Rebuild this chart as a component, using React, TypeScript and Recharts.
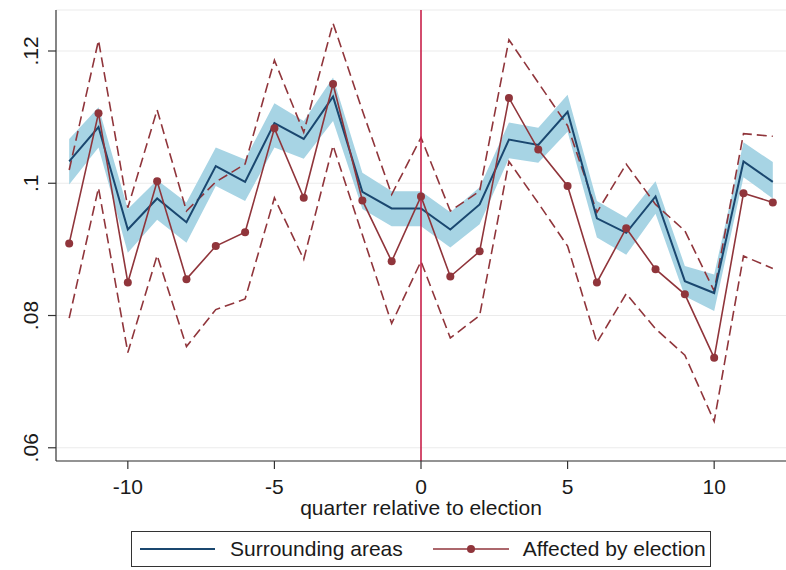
import React from "react";
import { ComposedChart, Area, Line, XAxis, YAxis, CartesianGrid, ReferenceLine, Legend } from "recharts";

const quarters = [-12, -11, -10, -9, -8, -7, -6, -5, -4, -3, -2, -1, 0, 1, 2, 3, 4, 5, 6, 7, 8, 9, 10, 11, 12];

const surrounding = [0.1033, 0.1085, 0.093, 0.0977, 0.0941, 0.1026, 0.1002, 0.1091, 0.1067, 0.1131, 0.0987, 0.0962, 0.0962, 0.093, 0.0968, 0.1066, 0.1058, 0.1108, 0.0947, 0.0925, 0.098, 0.0852, 0.0834, 0.1033, 0.1002];
const surroundingLo = [0.0998, 0.1054, 0.0895, 0.0945, 0.091, 0.0996, 0.0973, 0.1054, 0.1037, 0.1094, 0.0961, 0.0935, 0.0935, 0.0903, 0.0938, 0.1038, 0.1031, 0.1078, 0.0918, 0.0892, 0.0954, 0.0829, 0.0807, 0.1009, 0.0977];
const surroundingHi = [0.1067, 0.1115, 0.0961, 0.1005, 0.0971, 0.1054, 0.1036, 0.1121, 0.1094, 0.116, 0.1016, 0.0988, 0.0988, 0.0956, 0.0994, 0.1092, 0.1084, 0.1134, 0.0973, 0.0948, 0.1003, 0.0875, 0.0862, 0.1062, 0.1032];

const affected = [0.0909, 0.1106, 0.085, 0.1003, 0.0855, 0.0905, 0.0926, 0.1083, 0.0978, 0.115, 0.0974, 0.0882, 0.098, 0.0859, 0.0897, 0.1129, 0.1051, 0.0996, 0.085, 0.0932, 0.087, 0.0832, 0.0736, 0.0985, 0.0971];
const affectedHi = [0.102, 0.1216, 0.0963, 0.1111, 0.0958, 0.1002, 0.1029, 0.1186, 0.1077, 0.1242, 0.111, 0.0983, 0.1069, 0.0958, 0.0988, 0.1217, 0.1152, 0.1087, 0.0956, 0.1029, 0.0968, 0.0928, 0.0837, 0.1075, 0.1071];
const affectedLo = [0.0796, 0.0993, 0.0744, 0.0891, 0.0753, 0.0809, 0.0825, 0.0978, 0.0885, 0.1057, 0.0922, 0.0788, 0.0882, 0.0766, 0.08, 0.1033, 0.097, 0.0905, 0.0759, 0.0833, 0.078, 0.074, 0.064, 0.089, 0.0871];

const xTicks = [-10, -5, 0, 5, 10];
const yTicks = [0.06, 0.08, 0.1, 0.12];
const yLabels = [".06", ".08", ".1", ".12"];

const data = quarters.map((q, i) => ({
  q,
  surrounding: surrounding[i],
  band: [surroundingLo[i], surroundingHi[i]],
  affected: affected[i],
  affectedHi: affectedHi[i],
  affectedLo: affectedLo[i],
}));

const FONT = "'Liberation Sans', Arial, sans-serif";
const TEXT = "#1a1a1a";
const NAVY = "#1a476f";
const MAROON = "#90353b";
const BAND = "#a7d4e4";

const YTick = (props: any) => {
  const { y, payload } = props;
  const i = yTicks.indexOf(payload.value);
  const label = i >= 0 ? yLabels[i] : String(payload.value);
  return (
    <text x={38} y={y} transform={`rotate(-90, 38, ${y})`} textAnchor="middle" fontSize={21} fill={TEXT} fontFamily={FONT}>
      {label}
    </text>
  );
};

const XTick = (props: any) => {
  const { x, payload } = props;
  return (
    <text x={x} y={494} textAnchor="middle" fontSize={21} fill={TEXT} fontFamily={FONT}>
      {payload.value}
    </text>
  );
};

const LegendBox = () => (
  <div
    style={{
      width: 580,
      height: 36,
      border: "1px solid #333",
      display: "flex",
      alignItems: "center",
      fontFamily: FONT,
      fontSize: 21,
      color: TEXT,
      boxSizing: "border-box",
      background: "#fff",
    }}
  >
    <svg width={84} height={20} style={{ marginLeft: 8 }}>
      <line x1={0} y1={10} x2={75} y2={10} stroke={NAVY} strokeWidth={2} />
    </svg>
    <span style={{ marginLeft: 6 }}>Surrounding areas</span>
    <svg width={84} height={20} style={{ marginLeft: 30 }}>
      <line x1={0} y1={10} x2={76} y2={10} stroke={MAROON} strokeWidth={1.6} />
      <circle cx={38} cy={10} r={4} fill={MAROON} />
    </svg>
    <span style={{ marginLeft: 6 }}>Affected by election</span>
  </div>
);

export default function App() {
  return (
    <div style={{ position: "absolute", left: 0, top: 0, width: 786, height: 570, background: "#fff" }}>
      <ComposedChart width={786} height={570} data={data} margin={{ top: 10, right: 0, left: 0, bottom: 0 }} style={{ fontFamily: FONT }}>
        <CartesianGrid vertical={false} stroke="#ebebeb" strokeWidth={1.2} />
        <XAxis
          dataKey="q"
          type="number"
          domain={[-12.45, 12.45]}
          ticks={xTicks}
          height={109}
          tickSize={8}
          tick={<XTick />}
          axisLine={{ stroke: "#333", strokeWidth: 1.2 }}
          tickLine={{ stroke: "#333", strokeWidth: 1.2 }}
          allowDataOverflow
          label={{ value: "quarter relative to election", position: "insideBottom", offset: 55, fontSize: 21, fill: TEXT, fontFamily: FONT }}
        />
        <YAxis
          type="number"
          domain={[0.058, 0.1262]}
          ticks={yTicks}
          width={56}
          tickSize={8}
          tick={<YTick />}
          axisLine={{ stroke: "#333", strokeWidth: 1.2 }}
          tickLine={{ stroke: "#333", strokeWidth: 1.2 }}
          allowDataOverflow
        />
        <Area type="linear" dataKey="band" stroke="none" fill={BAND} fillOpacity={1} isAnimationActive={false} />
        <Line type="linear" dataKey="affectedHi" stroke={MAROON} strokeWidth={1.6} strokeDasharray="10 5" dot={false} isAnimationActive={false} />
        <Line type="linear" dataKey="affectedLo" stroke={MAROON} strokeWidth={1.6} strokeDasharray="10 5" dot={false} isAnimationActive={false} />
        <Line type="linear" dataKey="surrounding" stroke={NAVY} strokeWidth={2} dot={false} isAnimationActive={false} />
        <Line type="linear" dataKey="affected" stroke={MAROON} strokeWidth={1.6} dot={{ r: 4, fill: MAROON, stroke: MAROON, strokeWidth: 0 }} isAnimationActive={false} />
        <ReferenceLine x={0} stroke="#c8204a" strokeWidth={1.6} />
        <Legend
          layout="horizontal"
          verticalAlign="middle"
          align="center"
          content={<LegendBox />}
          wrapperStyle={{ position: "absolute", left: 131, top: 531, width: 580, height: 36 }}
        />
      </ComposedChart>
    </div>
  );
}
